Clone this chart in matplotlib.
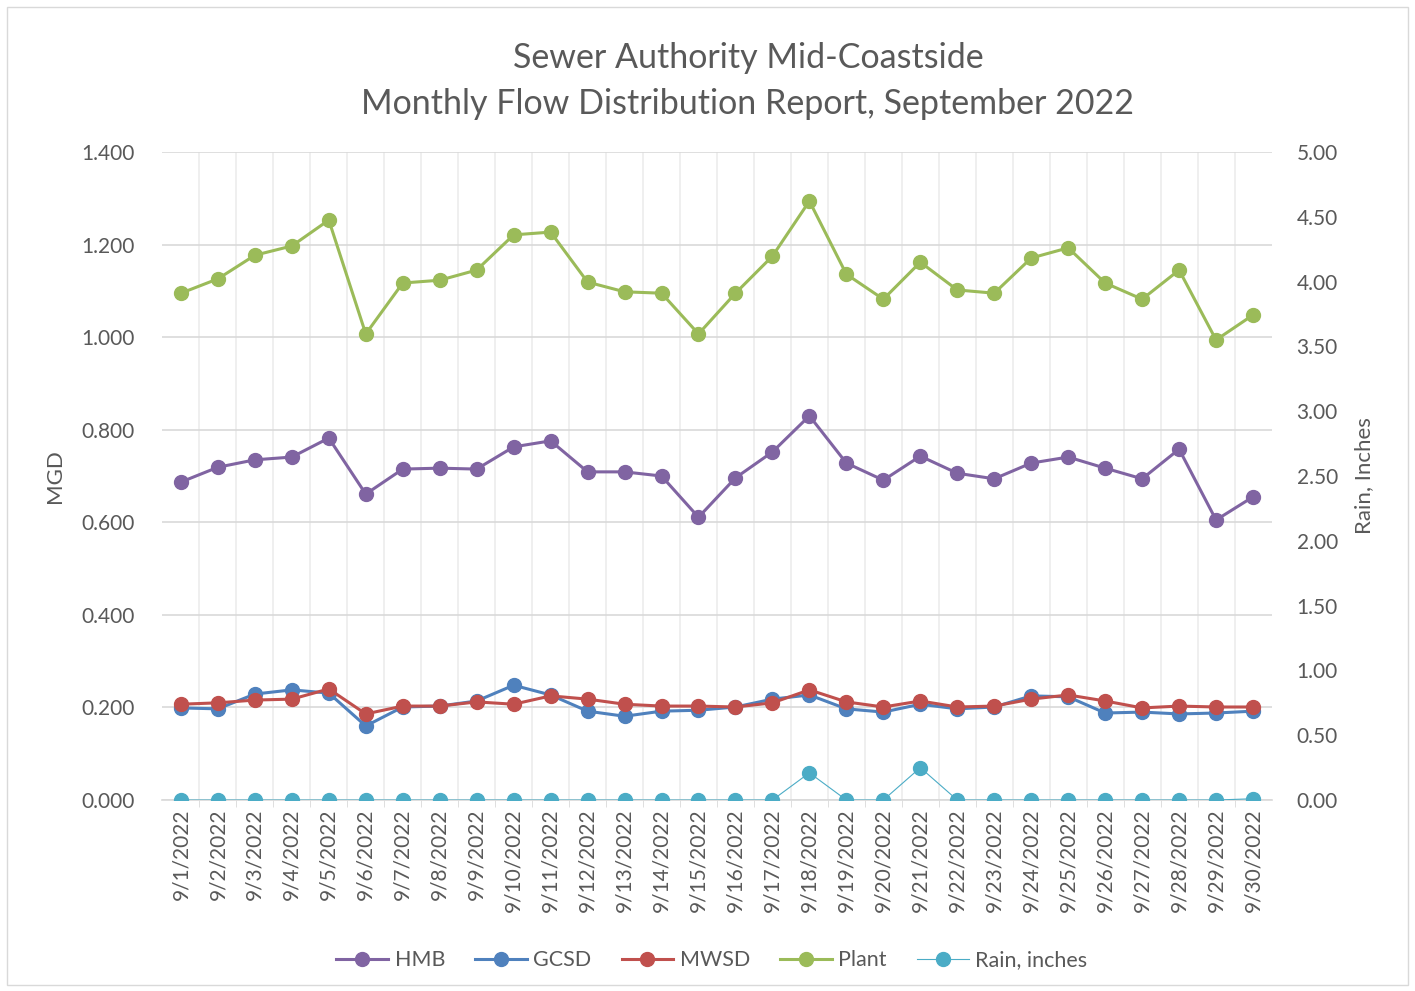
import matplotlib.pyplot as plt
import matplotlib.ticker as mticker
from matplotlib.patches import Rectangle

plt.rcParams['font.family'] = ['Lato', 'DejaVu Sans']

# 数据
dates = [f"9/{d}/2022" for d in range(1, 31)]
hmb = [0.687, 0.719, 0.735, 0.741, 0.782, 0.661, 0.715, 0.717, 0.715, 0.763,
       0.776, 0.709, 0.709, 0.700, 0.611, 0.696, 0.752, 0.830, 0.728, 0.691,
       0.743, 0.706, 0.694, 0.728, 0.741, 0.717, 0.694, 0.758, 0.605, 0.655]
gcsd = [0.199, 0.197, 0.229, 0.238, 0.231, 0.160, 0.201, 0.203, 0.214, 0.248,
        0.227, 0.192, 0.181, 0.192, 0.194, 0.201, 0.218, 0.227, 0.197, 0.190,
        0.207, 0.197, 0.201, 0.225, 0.223, 0.188, 0.190, 0.186, 0.188, 0.192]
mwsd = [0.207, 0.210, 0.216, 0.218, 0.240, 0.186, 0.203, 0.203, 0.212, 0.207,
        0.225, 0.218, 0.207, 0.203, 0.203, 0.201, 0.210, 0.238, 0.212, 0.201,
        0.214, 0.201, 0.203, 0.218, 0.227, 0.214, 0.199, 0.203, 0.201, 0.201]
plant = [1.095, 1.126, 1.177, 1.197, 1.253, 1.007, 1.117, 1.123, 1.145, 1.221,
         1.227, 1.119, 1.098, 1.095, 1.007, 1.095, 1.175, 1.294, 1.136, 1.082,
         1.162, 1.102, 1.095, 1.171, 1.193, 1.117, 1.082, 1.145, 0.994, 1.048]
rain = [0, 0, 0, 0, 0, 0, 0, 0, 0, 0,
        0, 0, 0, 0, 0, 0, 0, 0.21, 0, 0,
        0.25, 0, 0, 0, 0, 0, 0, 0, 0, 0.01]

TXT = '#595959'
GRID = '#d9d9d9'

fig = plt.figure(figsize=(14.15, 9.91), dpi=100)
fig.patches.append(Rectangle((0.005, 0.006), 0.99, 0.987, transform=fig.transFigure,
                             fill=False, edgecolor='#d9d9d9', linewidth=1.0))

ax = fig.add_axes([0.1148, 0.1927, 0.7838, 0.6539])
x = list(range(len(dates)))

series = [('HMB', hmb, '#8064A2'), ('GCSD', gcsd, '#4F81BD'),
          ('MWSD', mwsd, '#C0504D'), ('Plant', plant, '#9BBB59')]
handles = []
for name, vals, col in series:
    h, = ax.plot(x, vals, color=col, linewidth=2.2, marker='o', markersize=10,
                 label=name, zorder=3)
    handles.append(h)

ax.set_xlim(-0.5, len(dates) - 0.5)
ax.set_ylim(0, 1.4)
ax.yaxis.set_major_locator(mticker.MultipleLocator(0.2))
ax.yaxis.set_major_formatter(mticker.FormatStrFormatter('%.3f'))
ax.set_xticks(x)
ax.set_xticklabels(dates, rotation=90, fontsize=15, color=TXT)
ax.set_xticks([i + 0.5 for i in x[:-1]], minor=True)
ax.tick_params(axis='x', which='major', length=0, pad=6)
ax.tick_params(axis='x', which='minor', length=5, color=GRID)
ax.tick_params(axis='y', length=0, labelsize=15, labelcolor=TXT, pad=20)
ax.grid(axis='y', color=GRID, linewidth=1.2)
ax.grid(axis='x', which='minor', color='#ececec', linewidth=1.2)
ax.set_axisbelow(True)
for s in ['top', 'right', 'left']:
    ax.spines[s].set_visible(False)
ax.spines['bottom'].set_color(GRID)
ax.spines['bottom'].set_linewidth(1.2)
ax.set_ylabel('MGD', fontsize=16, color=TXT, labelpad=12)

ax2 = ax.twinx()
h, = ax2.plot(x, rain, color='#4BACC6', linewidth=0.8, marker='o', markersize=10,
              label='Rain, inches', zorder=3)
handles.append(h)
ax2.set_ylim(0, 5)
ax2.yaxis.set_major_locator(mticker.MultipleLocator(0.5))
ax2.yaxis.set_major_formatter(mticker.FormatStrFormatter('%.2f'))
ax2.tick_params(axis='y', length=0, labelsize=15, labelcolor=TXT, pad=18)
for s in ['top', 'right', 'left', 'bottom']:
    ax2.spines[s].set_visible(False)
ax2.set_ylabel('Rain, Inches', fontsize=16, color=TXT, labelpad=12)

fig.text(0.5286, 0.941, 'Sewer Authority Mid-Coastside', ha='center', va='center',
         fontsize=24.5, color=TXT)
fig.text(0.5286, 0.895, 'Monthly Flow Distribution Report, September 2022',
         ha='center', va='center', fontsize=24.5, color=TXT)

leg = fig.legend(handles=handles, loc='center', bbox_to_anchor=(0.503, 0.031),
                 ncol=5, frameon=False, fontsize=15.5, handlelength=2.4,
                 columnspacing=1.4, handletextpad=0.3)
for t in leg.get_texts():
    t.set_color(TXT)

fig.savefig('out.png', dpi=100)
